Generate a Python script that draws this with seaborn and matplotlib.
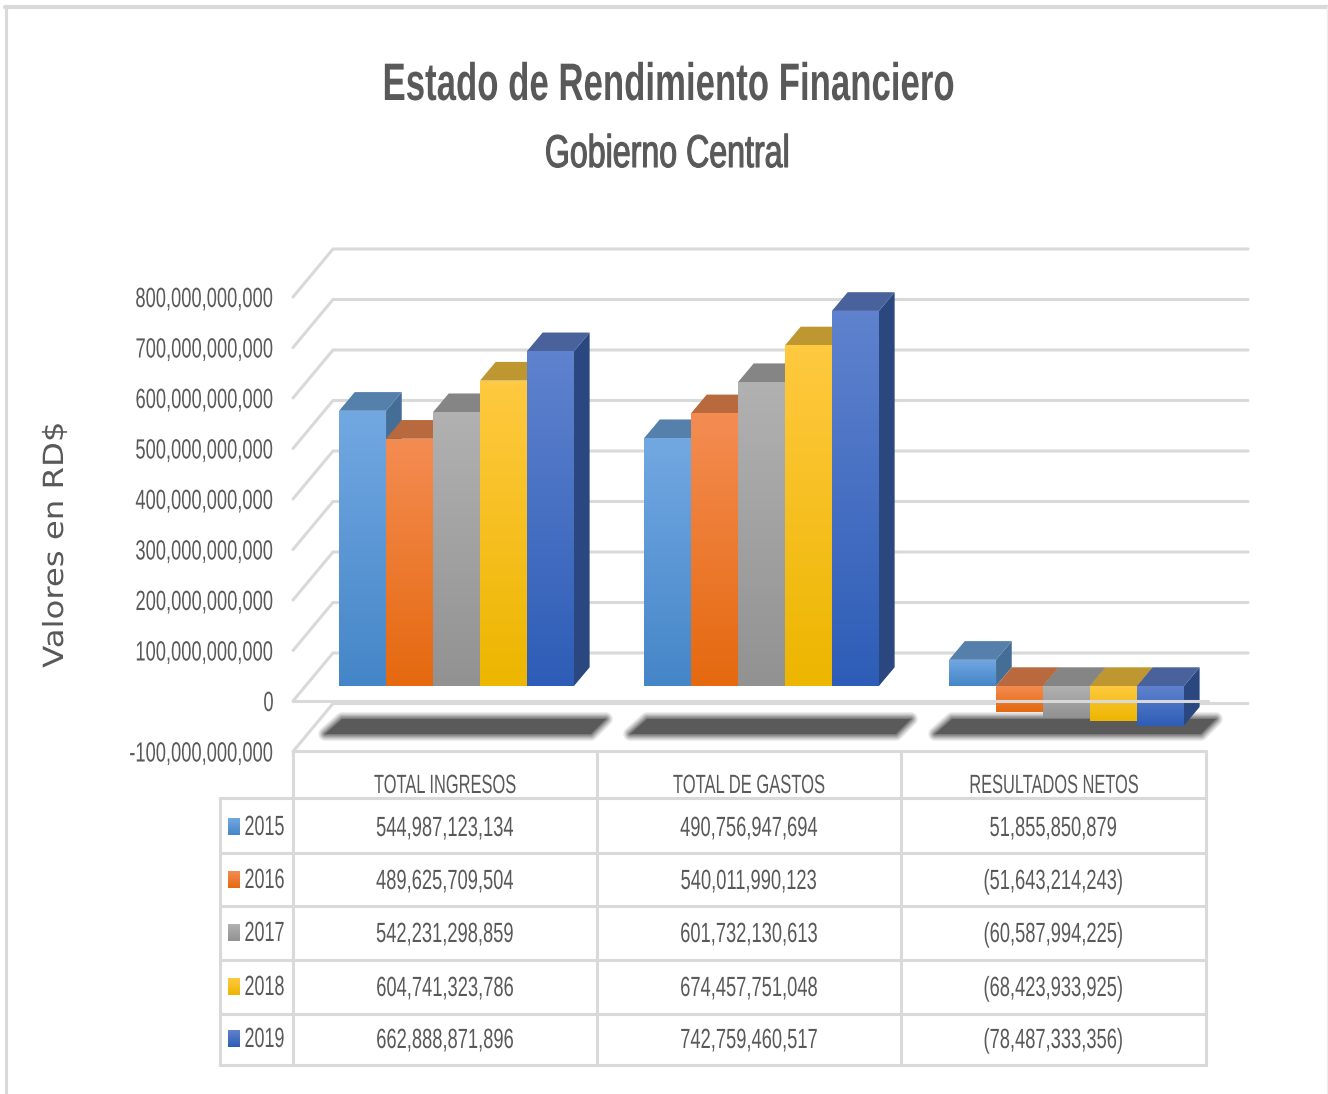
import numpy as np
import pandas as pd
import matplotlib
matplotlib.use('Agg')
import matplotlib.pyplot as plt
import matplotlib.patheffects as pe
from matplotlib.colors import LinearSegmentedColormap
from matplotlib.patches import Polygon, Rectangle
from matplotlib.transforms import Affine2D
import seaborn as sns

categories = ['TOTAL INGRESOS', 'TOTAL DE GASTOS', 'RESULTADOS NETOS']
years = ['2015', '2016', '2017', '2018', '2019']
values_2015 = [544987123134, 490756947694, 51855850879]
values_2016 = [489625709504, 540011990123, -51643214243]
values_2017 = [542231298859, 601732130613, -60587994225]
values_2018 = [604741323786, 674457751048, -68423933925]
values_2019 = [662888871896, 742759460517, -78487333356]
y_ticks = [-100e9, 0, 100e9, 200e9, 300e9, 400e9, 500e9, 600e9, 700e9, 800e9]

# light end, dark end, top face, side face
face_colors = {
    '2015': ('#72A8E2', '#4586C8', '#5580AC', '#446E96'),
    '2016': ('#F48C52', '#E5690F', '#B8693D', '#A55A30'),
    '2017': ('#B1B1B1', '#929292', '#858585', '#6F6F6F'),
    '2018': ('#FFC940', '#EDB600', '#BF9731', '#A8842A'),
    '2019': ('#5F82CE', '#2E5DB7', '#4A629B', '#2A4780'),
}

W, H = 1328, 1094
TEXT = '#595959'
GRID = '#D9D9D9'
DEPTH_X, DEPTH_Y = 15.7, 18.7

sns.set_theme(style='white')
plt.rcParams['font.family'] = ['Liberation Sans', 'DejaVu Sans']

df = pd.DataFrame({
    'category': categories * len(years),
    'year': [y for y in years for _ in categories],
    'value': values_2015 + values_2016 + values_2017 + values_2018 + values_2019,
})

fig = plt.figure(figsize=(W / 100, H / 100), dpi=100, facecolor='white')


# The reference text is horizontally squashed, no condensed font is installed
class Squeeze(pe.AbstractPathEffect):
    def __init__(self, sx, anchor='center', stroke=0):
        super().__init__()
        self.sx = sx
        self.anchor = anchor
        self.stroke = stroke

    def draw_path(self, renderer, gc, tpath, affine, rgbFace=None):
        ext = tpath.get_extents()
        a = {'left': ext.x0, 'center': (ext.x0 + ext.x1) / 2, 'right': ext.x1}[self.anchor]
        squash = Affine2D().translate(-a, 0).scale(self.sx, 1).translate(a, 0)
        gc0 = renderer.new_gc()
        gc0.copy_properties(gc)
        gc0.set_linewidth(self.stroke)
        gc0.set_foreground(rgbFace)
        renderer.draw_path(gc0, tpath, squash + affine, rgbFace)
        gc0.restore()


def text_width(text):
    return text.get_window_extent(fig.canvas.get_renderer()).width


# Full figure layer that works in reference pixels
def pixel_layer(zorder):
    layer = fig.add_axes([0, 0, 1, 1], zorder=zorder)
    layer.set_xlim(0, W)
    layer.set_ylim(H, 0)
    layer.axis('off')
    return layer


back = pixel_layer(0)
front = pixel_layer(2)

# Main axes: y=0 at pixel 686, 0.505 px per 1e9
ax_left, ax_right = 304, 1219
ax_top, ax_bottom = 686 - 800 * 0.505, 686 + 100 * 0.505
ax = fig.add_axes([ax_left / W, 1 - ax_bottom / H, (ax_right - ax_left) / W, (ax_bottom - ax_top) / H], zorder=1)
ax.patch.set_alpha(0)

sns.barplot(data=df, x='category', y='value', hue='year', order=categories, hue_order=years,
            palette={y: face_colors[y][0] for y in years}, width=0.77, gap=0, legend=False,
            errorbar=None, saturation=1, ax=ax)
ax.set_ylim(y_ticks[0], y_ticks[-1])
ax.set_xlim(-0.5, 2.5)
sns.despine(ax=ax, left=True, bottom=True)
ax.set_xlabel('')
ax.set_ylabel('')
ax.set_xticks([])
ax.set_yticks(y_ticks)
ax.set_yticklabels([f'{v:,.0f}' for v in y_ticks], fontsize=20, color=TEXT)
ax.tick_params(axis='y', length=0, pad=21.6)

fig.canvas.draw()
tick_labels = ax.get_yticklabels()
number_squash = 138 / text_width(tick_labels[-1])
for label in tick_labels:
    label.set_transform(label.get_transform() + Affine2D().translate(0, -15))
    label.set_path_effects([Squeeze(number_squash, 'right')])


def to_px(x, v):
    px = ax.transData.transform((x, v))
    return px[0], H - px[1]


# Grid floor and walls, drawn behind the bars
for v in y_ticks:
    _, y = to_px(0, v)
    back.plot([293, 333, 1248], [y + 15, y - 33, y - 33], color=GRID, lw=2.2, solid_joinstyle='miter')


def gradient_fill(axis, patch, light, dark):
    cmap = LinearSegmentedColormap.from_list('face', [light, dark])
    x0, y0 = patch.get_xy()
    x1, y1 = x0 + patch.get_width(), y0 + patch.get_height()
    grad = np.linspace(0, 1, 64).reshape(-1, 1)
    top, bottom = max(y0, y1), min(y0, y1)
    if axis.yaxis_inverted():
        top, bottom = bottom, top
    img = axis.imshow(grad, cmap=cmap, aspect='auto', extent=(x0, x1, bottom, top),
                      origin='upper', zorder=patch.get_zorder() + 0.1, interpolation='bilinear')
    img.set_clip_path(patch)


# Depth faces and gradients for every bar, read from the seaborn patches
xlim, ylim = ax.get_xlim(), ax.get_ylim()
group_bars = [[] for _ in categories]
for n_year, container in enumerate(ax.containers):
    light, dark, top_color, side_color = face_colors[years[n_year]]
    for n_cat, bar in enumerate(container):
        bx0, by0 = bar.get_xy()
        bx1, by1 = bx0 + bar.get_width(), by0 + bar.get_height()
        left, y_a = to_px(bx0, max(by0, by1))
        right, y_b = to_px(bx1, min(by0, by1))
        group_bars[n_cat].extend([left, right])
        back.add_patch(Polygon([(right, y_a), (right + DEPTH_X, y_a - DEPTH_Y),
                                (right + DEPTH_X, y_b - DEPTH_Y), (right, y_b)],
                               facecolor=side_color, edgecolor='none', zorder=5))
        back.add_patch(Polygon([(left, y_a), (left + DEPTH_X, y_a - DEPTH_Y),
                                (right + DEPTH_X, y_a - DEPTH_Y), (right, y_a)],
                               facecolor=top_color, edgecolor='none', zorder=5))
        bar.set_linewidth(0)
        gradient_fill(ax, bar, light, dark)
ax.set_xlim(xlim)
ax.set_ylim(ylim)

# Soft shadow below each group of bars
for bars in group_bars:
    g0, g1 = min(bars), max(bars)
    shape = [(g0 + 3, 719), (g1 + 32, 719), (g1 + 17, 734), (g0 - 14, 734)]
    for lw, alpha in [(10, 0.12), (8, 0.16), (6, 0.22), (4, 0.3), (2, 0.45)]:
        back.add_patch(Polygon(shape, facecolor='none', edgecolor='#5A5A5A', lw=lw, alpha=alpha,
                               joinstyle='round', zorder=3))
    back.add_patch(Polygon(shape, facecolor='#5A5A5A', edgecolor='none', zorder=3))

# Front edge of the floor passes over the bars
front.plot([293, 1208], [700.5, 700.5], color=GRID, lw=2.2)

# Data table under the chart
col_x = [293, 597, 901, 1206]
row_y = [798, 853, 906, 960, 1014, 1065]
table_left = 220
table_top = 751
front.plot([col_x[0], col_x[-1]], [table_top, table_top], color=GRID, lw=2.2)
for x in col_x:
    front.plot([x, x], [table_top, row_y[-1]], color=GRID, lw=2.2)
front.plot([table_left, table_left], [row_y[0], row_y[-1]], color=GRID, lw=2.2)
for y in row_y:
    front.plot([table_left, col_x[-1]], [y, y], color=GRID, lw=2.2)

centers = [(col_x[i] + col_x[i + 1]) / 2 for i in range(3)]
header_widths = [142, 152, 169]
for cx, name, target in zip(centers, categories, header_widths):
    t = front.text(cx, 786, name, ha='center', va='center', fontsize=19, color=TEXT)
    t.set_path_effects([Squeeze(target / text_width(t))])

table_rows = [values_2015, values_2016, values_2017, values_2018, values_2019]
row_text_y = [829, 882, 935, 989, 1041]
for year, vals, y in zip(years, table_rows, row_text_y):
    key = Rectangle((228, y - 11), 12, 17, facecolor=face_colors[year][0], edgecolor='none', zorder=3)
    front.add_patch(key)
    gradient_fill(front, key, face_colors[year][0], face_colors[year][1])
    t = front.text(244, y - 1, year, ha='left', va='center', fontsize=20, color=TEXT)
    t.set_path_effects([Squeeze(40 / text_width(t), 'left')])
    for cx, v in zip(centers, vals):
        txt = f'{v:,.0f}' if v >= 0 else f'({-v:,.0f})'
        t = front.text(cx, y, txt, ha='center', va='center', fontsize=20, color=TEXT)
        t.set_path_effects([Squeeze(number_squash)])
front.set_xlim(0, W)
front.set_ylim(H, 0)

# Titles and axis label
t = front.text(667.5, 86, 'Estado de Rendimiento Financiero', ha='center', va='center', fontsize=38,
               fontweight='bold', color=TEXT)
t.set_path_effects([Squeeze(571 / text_width(t))])
t = front.text(667.5, 155, 'Gobierno Central', ha='center', va='center', fontsize=33, color=TEXT)
t.set_path_effects([Squeeze(245 / text_width(t), stroke=0.8)])
t = front.text(55, 545, 'Valores en RD$', rotation=90, ha='center', va='center', fontsize=20,
               color=TEXT, family='DejaVu Sans')
t.set_path_effects([Squeeze(246 / t.get_window_extent(fig.canvas.get_renderer()).height)])

# Outer chart border
back.plot([6, 6], [7, H], color=GRID, lw=2.2)
back.plot([5, W - 1], [7, 7], color=GRID, lw=3)
back.plot([W - 1, W - 1], [7, H], color='#EDEDED', lw=1)
back.set_xlim(0, W)
back.set_ylim(H, 0)

fig.savefig('out.png', dpi=100, facecolor='white')
